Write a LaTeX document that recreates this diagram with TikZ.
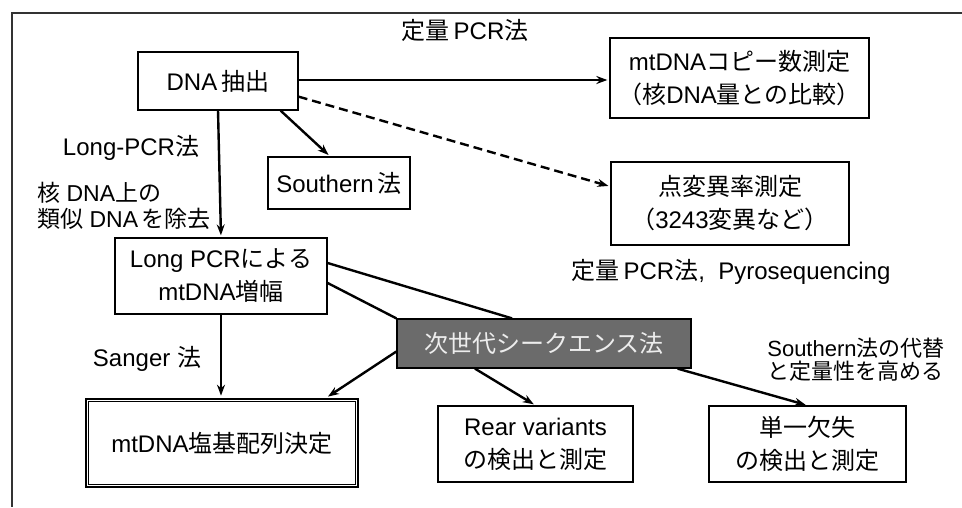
\documentclass[tikz,border=0pt]{standalone}
\usepackage{fontspec}
\setmainfont{Liberation Sans}
\newfontfamily\jpfont{Noto Sans CJK JP}
\newcommand{\jp}[1]{{\jpfont #1}}
\usetikzlibrary{arrows.meta}
\definecolor{ngsfill}{HTML}{6B6B6B}
\definecolor{ngstext}{HTML}{EDEDED}
\tikzset{
  box/.style={draw, line width=1.3pt, inner sep=0pt, align=center, font=\fontsize{24}{33}\selectfont},
  lbl/.style={inner sep=0pt, font=\fontsize{24}{27}\selectfont},
  conn/.style={line width=2.4pt},
  arr/.style={line width=2.4pt, -{Stealth[length=11pt,width=8pt]}, shorten >=2pt},
}
\begin{document}
\begin{tikzpicture}[x=1pt,y=-1pt]
\useasboundingbox (0,0) rectangle (962,507);
% frame (cropped)
\draw[line width=1.5pt, black!80] (962,13) -- (12,13) -- (12,507);
% boxes
\node[box, minimum width=160, minimum height=58] (dna) at (218,81) {DNA\,\jp{抽出}};
\node[box, minimum width=259, minimum height=80] (copy) at (739.5,78) {mtDNA\jp{コピー数測定}\\\jp{（核}DNA\jp{量との比較）}};
\node[box, minimum width=238, minimum height=83] (point) at (730,203.5) {\jp{点変異率測定}\\\jp{（}3243\jp{変異など）}};
\node[box, minimum width=142, minimum height=52] (south) at (339,183) {Southern\,\jp{法}};
\node[box, minimum width=212, minimum height=76] (lpcr) at (221,276) {Long PCR\jp{による}\\mtDNA\jp{増幅}};
\node[box, fill=ngsfill, text=ngstext, minimum width=294, minimum height=49] (ngs) at (544,343.5) {\jp{次世代シークエンス法}};
\node[box, line width=2.6pt, minimum width=272, minimum height=88] (seq) at (222,443) {mtDNA\jp{塩基配列決定}};
\draw[line width=1pt] ([shift={(4,4)}]seq.north west) rectangle ([shift={(-4,-4)}]seq.south east);
\node[box, minimum width=195, minimum height=76] (rear) at (535.5,444) {Rear variants\\\jp{の検出と測定}};
\node[box, minimum width=197, minimum height=76] (single) at (807.5,444) {\jp{単一欠失}\\\jp{の検出と測定}};
% labels
\node[lbl] (lq) at (465,30) {\jp{定量}\,PCR\jp{法}};
\node[lbl] (llong) at (131,148) {Long-PCR\jp{法}};
\node[lbl, anchor=west, align=left, font=\fontsize{23}{26}\selectfont] (lnuc) at (37,206) {\jp{核} DNA\jp{上の}\\\jp{類似} DNA\,\jp{を除去}};
\node[lbl] (lsanger) at (147,359) {Sanger \jp{法}};
\node[lbl] (lpyro) at (731,272) {\jp{定量}\,PCR\jp{法}, \ Pyrosequencing};
\node[lbl, align=left, font=\fontsize{22}{23}\selectfont] (lalt) at (856,360) {Southern\jp{法の代替}\\\jp{と定量性を高める}};
% connectors
\draw[arr] (dna.east |- 0,80) -- (copy.west |- 0,80);
\draw[arr, dash pattern=on 9pt off 5pt] ([yshift=14]dna.south east) -- ([yshift=17]point.west);
\draw[arr] ([xshift=-18]dna.south east) -- ([xshift=-9]south.north);
\draw[arr] (dna.south |- 0,110) -- (lpcr.north);
\draw[arr] (lpcr.south) -- (seq.north -| lpcr.south);
\draw[conn] ([yshift=13]lpcr.east) -- ([xshift=-32]ngs.north);
\draw[conn] ([yshift=-7]lpcr.east) -- (ngs.north west);
\draw[arr] ([yshift=-8]ngs.west) -- ([xshift=-33]seq.north east);
\draw[arr] ([xshift=-69]ngs.south) -- (rear.north);
\draw[arr] ([xshift=-14]ngs.south east) -- (single.north);
\end{tikzpicture}
\end{document}
